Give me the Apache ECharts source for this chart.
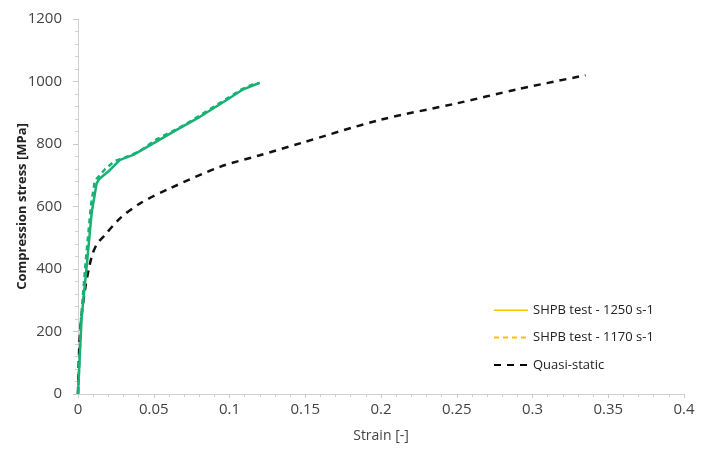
<!DOCTYPE html>
<html><head><meta charset="utf-8">
<script src="https://cdn.jsdelivr.net/npm/echarts@6/dist/echarts.min.js"></script>
<style>html,body{margin:0;padding:0;background:#fff}#c{width:705px;height:455px}</style>
</head><body><div id="c"></div>
<script>
const seriesNames = ['SHPB test - 1250 s-1', 'SHPB test - 1170 s-1', 'Quasi-static'];
const shpb1250Strain = [0, 0.0024, 0.0057, 0.009, 0.0123, 0.014, 0.0211, 0.0277, 0.0365, 0.0497, 0.0651, 0.0805, 0.0981, 0.1091, 0.12];
const shpb1250Stress = [0, 246, 407, 579, 674, 688, 717, 749, 765, 802, 845, 887, 941, 975, 996];
const shpb1170Strain = [0, 0.002, 0.005, 0.0085, 0.011, 0.0125, 0.018, 0.024, 0.03, 0.04, 0.052, 0.062, 0.07, 0.08, 0.09, 0.1, 0.108, 0.115, 0.119];
const shpb1170Stress = [0, 240, 420, 600, 680, 690, 720, 745, 755, 775, 815, 840, 860, 890, 920, 950, 975, 990, 995];
const quasiStrain = [0, 0.0013, 0.0046, 0.009, 0.0125, 0.0167, 0.0277, 0.041, 0.0607, 0.0937, 0.12, 0.1465, 0.1993, 0.25, 0.29, 0.335];
const quasiStress = [0, 195, 333, 439, 480, 503, 562, 610, 658, 727, 764, 802, 877, 930, 975, 1020];
const xTicks = {min: 0, max: 0.4, interval: 0.05};
const yTicks = {min: 0, max: 1200, interval: 200};

const pairs = (xs, ys) => xs.map((x, i) => [x, ys[i]]);
const green = '#19b074';
const legendYellow = '#FFC000';
const font = '"Open Sans", sans-serif';
const chart = echarts.init(document.getElementById('c'));
chart.setOption({
  animation: false,
  backgroundColor: '#fff',
  grid: {left: 78, right: 21, top: 19, bottom: 61, containLabel: false, outerBoundsMode: 'none'},
  legend: {
    orient: 'vertical', left: 488, top: 298, itemGap: 13,
    itemWidth: 34, itemHeight: 18,
    textStyle: {fontFamily: font, fontSize: 13, color: '#222'},
    data: [
      {name: seriesNames[0], itemStyle: {opacity: 0}, lineStyle: {color: legendYellow, width: 1.5}},
      {name: seriesNames[1], itemStyle: {opacity: 0}, lineStyle: {color: legendYellow, width: 2}},
      {name: seriesNames[2], itemStyle: {opacity: 0}, lineStyle: {color: '#000', width: 2}}
    ]
  },
  xAxis: {
    type: 'value', min: xTicks.min, max: xTicks.max, interval: xTicks.interval,
    name: 'Strain [-]', nameLocation: 'middle', nameGap: 35, nameMoveOverlap: false,
    nameTextStyle: {fontFamily: font, fontSize: 14, color: '#444'},
    axisLine: {lineStyle: {color: '#d0d0d0', width: 1}},
    axisTick: {show: true, inside: false, length: 4, lineStyle: {color: '#c8c8c8'}},
    minorTick: {show: true, splitNumber: 5, length: 3, lineStyle: {color: '#d0d0d0'}},
    splitLine: {show: false},
    axisLabel: {fontFamily: font, fontSize: 15, color: '#444', margin: 8,
      formatter: v => String(+v.toFixed(2))}
  },
  yAxis: {
    type: 'value', min: yTicks.min, max: yTicks.max, interval: yTicks.interval,
    name: 'Compression stress [MPa]', nameLocation: 'middle', nameGap: 49, nameMoveOverlap: false,
    nameTextStyle: {fontFamily: font, fontSize: 13, fontWeight: 'bold', color: '#222'},
    axisLine: {show: true, lineStyle: {color: '#d0d0d0', width: 1}},
    axisTick: {show: true, length: 5, lineStyle: {color: '#c8c8c8'}},
    minorTick: {show: true, splitNumber: 5, length: 3, lineStyle: {color: '#d0d0d0'}},
    splitLine: {show: false},
    axisLabel: {fontFamily: font, fontSize: 15, color: '#444', margin: 16, formatter: v => String(v)}
  },
  series: [
    {name: seriesNames[0], type: 'line', data: pairs(shpb1250Strain, shpb1250Stress), showSymbol: false, symbol: 'none',
      lineStyle: {color: green, width: 2.5}, itemStyle: {color: green}, z: 3},
    {name: seriesNames[1], type: 'line', data: pairs(shpb1170Strain, shpb1170Stress), showSymbol: false, symbol: 'none',
      lineStyle: {color: green, width: 2.5, type: [5, 4]}, itemStyle: {color: green}, z: 2},
    {name: seriesNames[2], type: 'line', data: pairs(quasiStrain, quasiStress), showSymbol: false, symbol: 'none', smooth: 0.3,
      lineStyle: {color: '#111', width: 2.5, type: [7, 6]}, itemStyle: {color: '#111'}, z: 1}
  ]
});
</script></body></html>
